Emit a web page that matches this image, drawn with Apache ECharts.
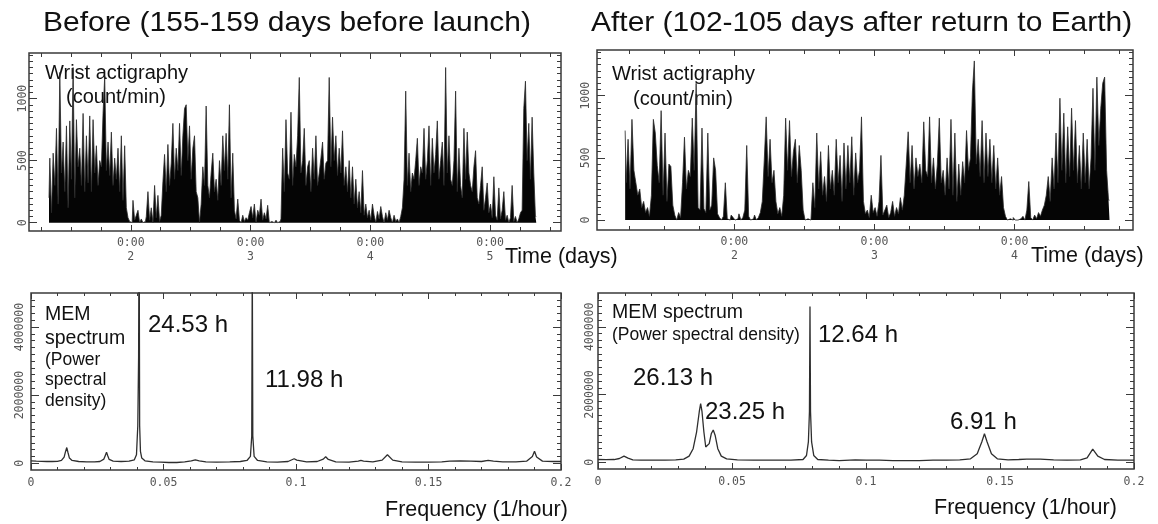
<!DOCTYPE html>
<html>
<head>
<meta charset="utf-8">
<script src="https://cdn.jsdelivr.net/npm/echarts@6/dist/echarts.min.js"></script>
<style>
html,body{margin:0;padding:0;background:#fff;}
#chart{width:1158px;height:524px;}
</style>
</head>
<body>
<div id="chart"></div>
<script>
// ---------------- DATA ----------------
const actStepDays = 1 / 72;
const actStartBefore = 1.317;   // day of first sample (before flight)
const actBefore = [
  200, 520, 80, 560, 300, 760, 150, 1210, 400, 650, 250, 780, 120, 820, 350, 1250, 200, 830, 450, 600, 300, 880, 250, 700,
  320, 860, 250, 830, 400, 620, 300, 500, 450, 880, 1180, 420, 650, 380, 730, 300, 520, 350, 600, 250, 700, 180, 620, 120,
  40, 10, 0, 180, 20, 60, 100, 0, 30, 0, 10, 50, 250, 20, 120, 0, 300, 40, 220, 10, 60, 330, 550, 250,
  630, 300, 480, 800, 350, 600, 420, 800, 380, 700, 920, 950, 500, 780, 350, 600, 700, 250, 200, 0, 150, 450, 300, 940,
  300, 200, 400, 560, 250, 350, 180, 500, 300, 700, 420, 720, 350, 950, 200, 560, 100, 30, 190, 20, 0, 60, 10, 40,
  20, 80, 130, 40, 150, 0, 100, 60, 190, 20, 80, 30, 140, 0, 10, 0, 0, 20, 0, 10, 30, 600, 250, 830,
  400, 350, 890, 300, 550, 450, 700, 1170, 400, 500, 760, 300, 450, 500, 250, 600, 350, 700, 300, 400, 520, 650, 350, 480,
  500, 1170, 450, 850, 500, 700, 380, 600, 400, 740, 300, 450, 250, 500, 200, 450, 150, 350, 120, 250, 80, 420, 60, 150,
  40, 100, 20, 150, 60, 0, 90, 30, 130, 50, 0, 80, 20, 100, 40, 0, 60, 10, 30, 0, 50, 120, 350, 1060,
  300, 560, 250, 400, 350, 500, 680, 300, 450, 400, 760, 350, 500, 780, 300, 680, 400, 550, 820, 350, 500, 650, 300, 1250,
  400, 700, 350, 300, 500, 1060, 250, 600, 300, 200, 760, 350, 730, 400, 300, 250, 450, 580, 200, 150, 300, 450, 100, 200,
  320, 80, 150, 40, 370, 60, 20, 280, 30, 100, 250, 20, 60, 0, 40, 300, 10, 50, 0, 30, 80, 100, 920, 1140,
  500, 800, 350, 850, 400, 50
];
const actStartAfter = 1.22;     // day of first sample (after return)
const actAfter = [
  720, 300, 650, 250, 810, 400, 300, 200, 250, 100, 150, 60, 100, 30, 200, 810, 700, 440, 300, 880, 200, 700, 150, 450,
  430, 120, 40, 0, 60, 20, 300, 667, 250, 400, 350, 820, 400, 1100, 100, 80, 740, 90, 60, 700, 80, 120, 500, 400,
  50, 20, 0, 30, 300, 10, 0, 40, 20, 0, 10, 50, 0, 20, 80, 600, 30, 0, 10, 40, 0, 20, 60, 150,
  480, 830, 350, 650, 300, 400, 150, 50, 100, 30, 200, 820, 400, 800, 350, 550, 650, 300, 600, 400, 80, 0, 10, 0,
  0, 300, 100, 700, 250, 550, 200, 350, 150, 600, 250, 400, 200, 650, 300, 520, 150, 620, 250, 600, 300, 670, 200, 540,
  300, 400, 830, 150, 50, 80, 20, 200, 60, 100, 30, 150, 520, 40, 80, 120, 20, 60, 150, 30, 100, 50, 180, 80,
  200, 450, 710, 300, 600, 250, 500, 350, 450, 300, 790, 400, 350, 830, 300, 500, 250, 450, 820, 300, 400, 200, 500, 250,
  810, 200, 700, 150, 450, 200, 470, 300, 720, 400, 500, 1030, 1280, 450, 650, 350, 800, 300, 700, 350, 650, 300, 600, 250,
  500, 200, 350, 100, 30, 0, 10, 0, 20, 0, 0, 10, 0, 30, 0, 80, 310, 20, 0, 40, 10, 60, 30, 80,
  120, 200, 350, 150, 500, 250, 700, 300, 980, 400, 860, 300, 750, 350, 900, 400, 800, 300, 600, 250, 700, 300, 650, 250,
  500, 1060, 400, 1150, 600, 900, 1100, 1150, 400, 160
];
const dayLabelsBefore = [2, 3, 4, 5];
const dayLabelsAfter = [2, 3, 4];

// MEM spectrum (power spectral density) vs frequency (1/hour)
const freqBefore = [0, 0.002, 0.004, 0.006, 0.008, 0.010, 0.0115, 0.0125, 0.013, 0.0135, 0.014, 0.0145, 0.0155, 0.018, 0.021, 0.024, 0.026, 0.0275, 0.028, 0.0285, 0.029, 0.0295, 0.031, 0.034, 0.037, 0.039, 0.0398, 0.0403, 0.0406, 0.0408, 0.041, 0.0413, 0.0418, 0.043, 0.046, 0.049, 0.052, 0.055, 0.058, 0.0605, 0.062, 0.0635, 0.066, 0.07, 0.075, 0.079, 0.0815, 0.0828, 0.0833, 0.0835, 0.0837, 0.0842, 0.0855, 0.089, 0.093, 0.097, 0.0993, 0.1003, 0.104, 0.108, 0.1103, 0.1112, 0.1122, 0.115, 0.12, 0.1235, 0.1245, 0.1255, 0.129, 0.1325, 0.1345, 0.1365, 0.14, 0.145, 0.15, 0.155, 0.158, 0.162, 0.166, 0.17, 0.1725, 0.1745, 0.178, 0.183, 0.187, 0.1892, 0.19, 0.1908, 0.193, 0.197, 0.2];
const psdBefore = [70000, 60000, 55000, 50000, 50000, 55000, 80000, 180000, 330000, 460000, 300000, 150000, 80000, 50000, 40000, 40000, 50000, 120000, 220000, 320000, 210000, 110000, 60000, 50000, 60000, 100000, 250000, 1100000, 3100000, 7500000, 1100000, 350000, 150000, 70000, 40000, 30000, 20000, 20000, 40000, 70000, 100000, 70000, 40000, 30000, 40000, 50000, 80000, 200000, 800000, 6000000, 800000, 200000, 80000, 40000, 30000, 50000, 130000, 90000, 40000, 50000, 120000, 190000, 110000, 40000, 30000, 60000, 80000, 60000, 40000, 90000, 250000, 90000, 40000, 30000, 30000, 40000, 60000, 65000, 60000, 50000, 80000, 60000, 40000, 40000, 60000, 200000, 350000, 180000, 60000, 50000, 50000];
const freqAfter = [0, 0.003, 0.006, 0.008, 0.0097, 0.0112, 0.013, 0.016, 0.02, 0.025, 0.029, 0.032, 0.034, 0.0355, 0.0368, 0.0378, 0.0383, 0.0388, 0.0395, 0.0402, 0.0408, 0.0415, 0.0423, 0.043, 0.0437, 0.0447, 0.046, 0.048, 0.052, 0.058, 0.065, 0.072, 0.0765, 0.0778, 0.0785, 0.0789, 0.0791, 0.0793, 0.0797, 0.0805, 0.082, 0.086, 0.09, 0.096, 0.1, 0.105, 0.11, 0.115, 0.12, 0.125, 0.13, 0.135, 0.139, 0.1415, 0.1432, 0.1442, 0.1452, 0.1468, 0.149, 0.153, 0.157, 0.16, 0.165, 0.17, 0.175, 0.18, 0.1825, 0.1846, 0.1865, 0.189, 0.194, 0.2];
const psdAfter = [80000, 75000, 80000, 110000, 180000, 120000, 70000, 60000, 60000, 60000, 70000, 90000, 180000, 400000, 900000, 1500000, 1730000, 1500000, 900000, 450000, 400000, 550000, 850000, 950000, 800000, 400000, 180000, 100000, 70000, 60000, 60000, 60000, 80000, 200000, 600000, 1500000, 4600000, 1500000, 600000, 200000, 80000, 60000, 50000, 70000, 60000, 60000, 50000, 50000, 50000, 60000, 60000, 70000, 100000, 250000, 600000, 840000, 600000, 250000, 100000, 70000, 80000, 90000, 90000, 70000, 60000, 70000, 130000, 390000, 180000, 80000, 60000, 60000];
const freqLabels = [0, 0.05, 0.1, 0.15, 0.2];
const psdLabels = [0, 2000000, 4000000];
const actLabels = [0, 500, 1000];

// ---------------- BUILD ----------------
const FONT = "'Liberation Sans', Arial, sans-serif";
const TICKFONT = "'DejaVu Sans Mono', monospace";
const frameColor = '#3a3a3a';

function range(a, b, step) {
  const out = [];
  const n = Math.round((b - a) / step);
  for (let i = 0; i <= n; i++) out.push(+(a + i * step).toFixed(6));
  return out;
}

const grids = [], xAxes = [], yAxes = [];

function addPanel(g) {
  const gi = grids.length;
  grids.push({left: g.left, top: g.top, width: g.width, height: g.height, show: true,
    borderColor: frameColor, borderWidth: 1.5, backgroundColor: 'transparent', containLabel: false});
  const tick = (len, vals) => ({show: true, inside: true, length: len, customValues: vals, lineStyle: {color: frameColor, width: 1}});
  const noLine = {show: false, onZero: false};
  const base = {type: 'value', gridIndex: gi, splitLine: {show: false}, axisLine: noLine, silent: true};
  const xi = xAxes.length;
  xAxes.push(Object.assign({}, base, {min: g.xMin, max: g.xMax, position: 'bottom',
    axisTick: tick(g.xMajorLen, g.xMajor),
    axisLabel: {show: true, customValues: g.xLabels, formatter: g.xFmt, margin: g.xMargin, color: '#555',
      fontFamily: TICKFONT, fontSize: 11.5, lineHeight: 14, showMinLabel: true, showMaxLabel: true}}));
  xAxes.push(Object.assign({}, base, {min: g.xMin, max: g.xMax, position: 'bottom',
    axisTick: tick(g.xMinorLen, g.xMinor), axisLabel: {show: false, customValues: g.xMinor}}));
  xAxes.push(Object.assign({}, base, {min: g.xMin, max: g.xMax, position: 'top',
    axisTick: tick(g.xMajorLen, g.xMajor), axisLabel: {show: false, customValues: g.xMajor}}));
  xAxes.push(Object.assign({}, base, {min: g.xMin, max: g.xMax, position: 'top',
    axisTick: tick(g.xMinorLen, g.xMinor), axisLabel: {show: false, customValues: g.xMinor}}));
  const yi = yAxes.length;
  yAxes.push(Object.assign({}, base, {min: g.yMin, max: g.yMax, position: 'left',
    axisTick: tick(8, g.yMajor),
    axisLabel: {show: true, customValues: g.yMajor, rotate: 90, margin: g.yMargin, color: '#555',
      fontFamily: TICKFONT, fontSize: 11.5, formatter: v => String(Math.round(v)),
      showMinLabel: true, showMaxLabel: true}}));
  yAxes.push(Object.assign({}, base, {min: g.yMin, max: g.yMax, position: 'left',
    axisTick: tick(4, g.yMinor), axisLabel: {show: false, customValues: g.yMinor}}));
  yAxes.push(Object.assign({}, base, {min: g.yMin, max: g.yMax, position: 'right',
    axisTick: tick(8, g.yMajor), axisLabel: {show: false, customValues: g.yMajor}}));
  yAxes.push(Object.assign({}, base, {min: g.yMin, max: g.yMax, position: 'right',
    axisTick: tick(4, g.yMinor), axisLabel: {show: false, customValues: g.yMinor}}));
  return {xi, yi};
}

function actPanel(left, top, width, height, xMin, xMax, yMin, yMax, days, yMargin) {
  return addPanel({left, top, width, height, xMin, xMax, yMin, yMax,
    xMajor: days, xLabels: days, xMinor: range(Math.ceil(xMin * 4) / 4, Math.floor(xMax * 4) / 4, 0.25),
    xMajorLen: 6, xMinorLen: 4, xMargin: 5, xFmt: v => '0:00\n' + Math.round(v),
    yMajor: actLabels, yMinor: range(0, 1350, 50), yMargin});
}
function psdPanel(left, top, width, height, yMargin) {
  return addPanel({left, top, width, height, xMin: 0, xMax: 0.2, yMin: -200000, yMax: 5000000,
    xMajor: freqLabels, xLabels: freqLabels, xMinor: range(0, 0.2, 0.01),
    xMajorLen: 6, xMinorLen: 3, xMargin: 6, xFmt: v => String(+v.toFixed(2)),
    yMajor: psdLabels, yMinor: range(0, 4800000, 200000), yMargin});
}

const pTL = actPanel(29, 53, 532, 178, 1.15, 5.593, -67, 1367, dayLabelsBefore, 0);
const pTR = actPanel(597, 50, 536, 180, 1.019, 4.846, -80, 1368, dayLabelsAfter, 5);
const pBL = psdPanel(31, 293, 530, 177, 5);
const pBR = psdPanel(598, 293, 536, 176, 2);

const toPairs = (start, vals) => vals.map((v, i) => [start + i * actStepDays, v]);
const zip = (xs, ys) => xs.map((x, i) => [x, ys[i]]);

function actSeries(p, data) {
  return {type: 'line', xAxisIndex: p.xi, yAxisIndex: p.yi, data, symbol: 'none', clip: true, step: 'middle',
    lineStyle: {color: '#2a2a2a', width: 0.8}, areaStyle: {color: '#050505', opacity: 1}, animation: false, silent: true};
}
function psdSeries(p, data) {
  return {type: 'line', xAxisIndex: p.xi, yAxisIndex: p.yi, data, symbol: 'none', clip: true,
    lineStyle: {color: '#2e2e2e', width: 1.3}, animation: false, silent: true};
}

function txt(x, y, text, size, extra) {
  return Object.assign({type: 'text', x, y, silent: true,
    style: {text, fontFamily: FONT, fontSize: size, fill: '#111', verticalAlign: 'middle', align: 'left'}}, extra || {});
}

const graphics = [
  txt(43, 23, 'Before (155-159 days before launch)', 28, {scaleX: 1.07}),
  txt(591, 23, 'After (102-105 days after return to Earth)', 28, {scaleX: 1.07}),
  txt(45, 73, 'Wrist actigraphy', 20),
  txt(66, 97, '(count/min)', 20),
  txt(612, 74, 'Wrist actigraphy', 20),
  txt(633, 99, '(count/min)', 20),
  txt(505, 257, 'Time (days)', 21.5),
  txt(1031, 256, 'Time (days)', 21.5),
  txt(45, 315, 'MEM', 19.5),
  txt(45, 339, 'spectrum', 19.5),
  txt(45, 360, '(Power', 17.5),
  txt(45, 380, 'spectral', 17.5),
  txt(45, 401, 'density)', 17.5),
  txt(148, 325, '24.53 h', 24),
  txt(265, 380, '11.98 h', 24),
  txt(385, 510, 'Frequency (1/hour)', 21.5),
  txt(612, 313, 'MEM spectrum', 19.5),
  txt(612, 335, '(Power spectral density)', 17.5),
  txt(818, 335, '12.64 h', 24),
  txt(633, 378, '26.13 h', 24),
  txt(705, 412, '23.25 h', 24),
  txt(950, 422, '6.91 h', 24),
  txt(934, 508, 'Frequency (1/hour)', 21.5)
];

const chart = echarts.init(document.getElementById('chart'), null, {renderer: 'canvas'});
chart.setOption({
  backgroundColor: '#ffffff',
  animation: false,
  grid: grids,
  xAxis: xAxes,
  yAxis: yAxes,
  series: [
    actSeries(pTL, toPairs(actStartBefore, actBefore)),
    actSeries(pTR, toPairs(actStartAfter, actAfter)),
    psdSeries(pBL, zip(freqBefore, psdBefore)),
    psdSeries(pBR, zip(freqAfter, psdAfter))
  ],
  graphic: graphics
});
</script>
</body>
</html>
